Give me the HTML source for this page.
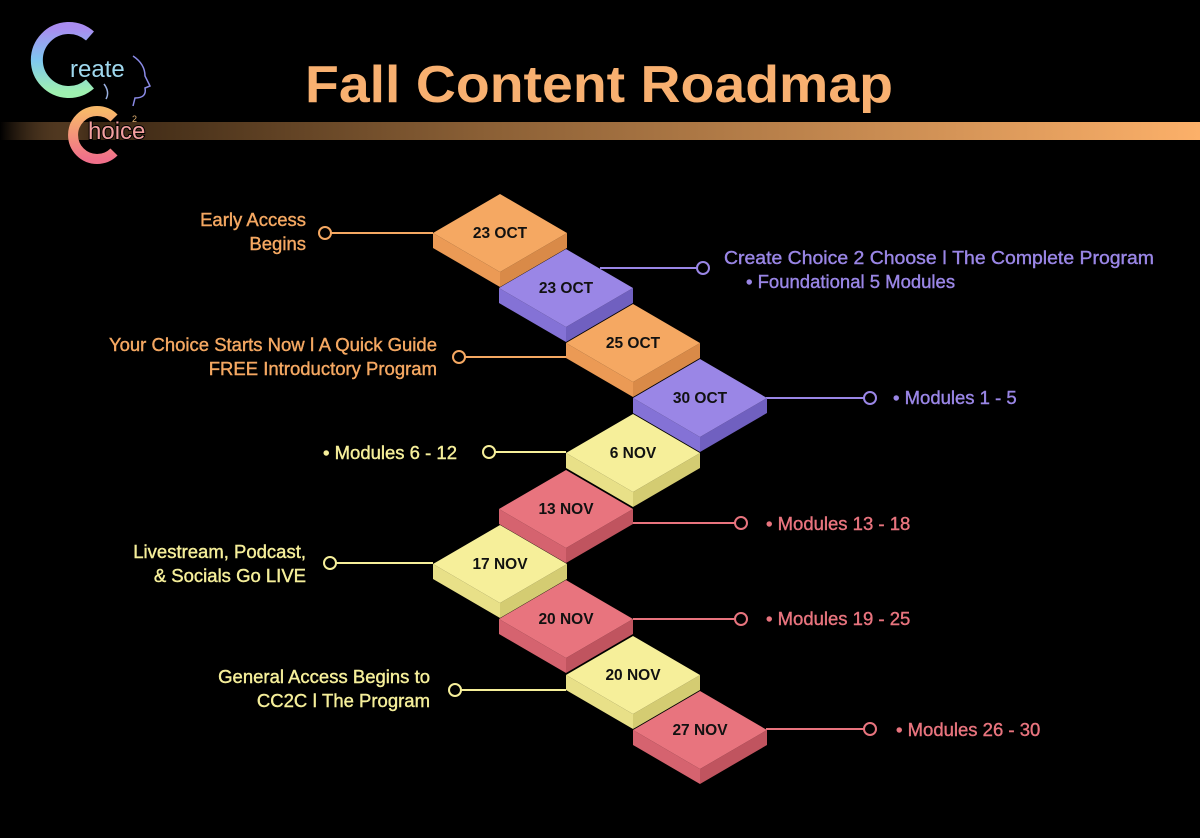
<!DOCTYPE html>
<html><head><meta charset="utf-8"><style>
html,body{margin:0;padding:0;background:#000;}
svg{display:block;}
text{font-family:"Liberation Sans","DejaVu Sans",sans-serif;}
</style></head><body>
<svg width="1200" height="838" viewBox="0 0 1200 838" xmlns="http://www.w3.org/2000/svg">
<defs>
<linearGradient id="bar" x1="0" x2="1" y1="0" y2="0">
<stop offset="0" stop-color="#f6ad66" stop-opacity="0"/>
<stop offset="0.08" stop-color="#3a2714"/>
<stop offset="0.4" stop-color="#8a5f35"/>
<stop offset="1" stop-color="#fcb069"/>
</linearGradient>
<linearGradient id="c1" x1="0" y1="0" x2="0" y2="1">
<stop offset="0" stop-color="#a98cf0"/><stop offset="0.5" stop-color="#7fc7f0"/><stop offset="1" stop-color="#9ef0b0"/>
</linearGradient>
<linearGradient id="c2" x1="0" y1="0" x2="0" y2="1">
<stop offset="0" stop-color="#f7b86a"/><stop offset="1" stop-color="#f0708a"/>
</linearGradient>
</defs>
<rect width="1200" height="838" fill="#000"/>
<rect x="0" y="122" width="1200" height="18" fill="url(#bar)"/>
<text x="305" y="102" font-size="52" font-weight="bold" fill="#f8b070" textLength="588" lengthAdjust="spacingAndGlyphs">Fall Content Roadmap</text>

<path d="M90,36 A32,32 0 1 0 90,84" fill="none" stroke="url(#c1)" stroke-width="12"/>
<text x="70" y="77" font-size="24" fill="#9fd8ee">reate</text>
<path d="M133,56 q12,8 12,20 l5,10 -5,2 q2,10 -10,10 l-2,8" fill="none" stroke="#8a8ae6" stroke-width="1.5"/>
<path d="M104,84 q6,8 2,15" fill="none" stroke="#9ab0e0" stroke-width="1.5"/>
<path d="M114,118 A24,24 0 1 0 114,152" fill="none" stroke="url(#c2)" stroke-width="10"/>
<text x="88" y="139" font-size="24" fill="#f4a0a0" stroke="#000" stroke-width="2" paint-order="stroke">hoice</text>
<text x="132" y="122" font-size="9" fill="#e0b070">2</text>

<g stroke-width="2" fill="none">
<line x1="331" y1="233" x2="433" y2="233" stroke="#f5a862"/><circle cx="325" cy="233" r="6" stroke="#f5a862"/>
<line x1="600" y1="268" x2="697" y2="268" stroke="#9a86e6"/><circle cx="703" cy="268" r="6" stroke="#9a86e6"/>
<line x1="465" y1="357" x2="566" y2="357" stroke="#f5a862"/><circle cx="459" cy="357" r="6" stroke="#f5a862"/>
<line x1="766" y1="398" x2="864" y2="398" stroke="#9a86e6"/><circle cx="870" cy="398" r="6" stroke="#9a86e6"/>
<line x1="495" y1="452" x2="566" y2="452" stroke="#f6ef9a"/><circle cx="489" cy="452" r="6" stroke="#f6ef9a"/>
<line x1="633" y1="523" x2="735" y2="523" stroke="#e8747e"/><circle cx="741" cy="523" r="6" stroke="#e8747e"/>
<line x1="336" y1="563" x2="433" y2="563" stroke="#f6ef9a"/><circle cx="330" cy="563" r="6" stroke="#f6ef9a"/>
<line x1="633" y1="619" x2="735" y2="619" stroke="#e8747e"/><circle cx="741" cy="619" r="6" stroke="#e8747e"/>
<line x1="461" y1="690" x2="566" y2="690" stroke="#f6ef9a"/><circle cx="455" cy="690" r="6" stroke="#f6ef9a"/>
<line x1="766" y1="729" x2="864" y2="729" stroke="#e8747e"/><circle cx="870" cy="729" r="6" stroke="#e8747e"/>
</g>

<g font-size="15.5" font-weight="bold" text-anchor="middle" fill="#111">
<g transform="translate(500,233)"><polygon points="-67,0 0,39 0,54 -67,15" fill="#eb9a55"/><polygon points="0,39 67,0 67,15 0,54" fill="#d98a48"/><polygon points="0,-39 67,0 0,39 -67,0" fill="#f5a862"/><text y="5">23 OCT</text></g>
<g transform="translate(566,288)"><polygon points="-67,0 0,39 0,54 -67,15" fill="#8472d6"/><polygon points="0,39 67,0 67,15 0,54" fill="#7060c0"/><polygon points="0,-39 67,0 0,39 -67,0" fill="#9a86e6"/><text y="5">23 OCT</text></g>
<g transform="translate(633,343)"><polygon points="-67,0 0,39 0,54 -67,15" fill="#eb9a55"/><polygon points="0,39 67,0 67,15 0,54" fill="#d98a48"/><polygon points="0,-39 67,0 0,39 -67,0" fill="#f5a862"/><text y="5">25 OCT</text></g>
<g transform="translate(700,398)"><polygon points="-67,0 0,39 0,54 -67,15" fill="#8472d6"/><polygon points="0,39 67,0 67,15 0,54" fill="#7060c0"/><polygon points="0,-39 67,0 0,39 -67,0" fill="#9a86e6"/><text y="5">30 OCT</text></g>
<g transform="translate(633,453)"><polygon points="-67,0 0,39 0,54 -67,15" fill="#e8e088"/><polygon points="0,39 67,0 67,15 0,54" fill="#d4cc72"/><polygon points="0,-39 67,0 0,39 -67,0" fill="#f6ef9a"/><text y="5">6 NOV</text></g>
<g transform="translate(566,509)"><polygon points="-67,0 0,39 0,54 -67,15" fill="#d5636f"/><polygon points="0,39 67,0 67,15 0,54" fill="#c0545f"/><polygon points="0,-39 67,0 0,39 -67,0" fill="#e8747e"/><text y="5">13 NOV</text></g>
<g transform="translate(500,564)"><polygon points="-67,0 0,39 0,54 -67,15" fill="#e8e088"/><polygon points="0,39 67,0 67,15 0,54" fill="#d4cc72"/><polygon points="0,-39 67,0 0,39 -67,0" fill="#f6ef9a"/><text y="5">17 NOV</text></g>
<g transform="translate(566,619)"><polygon points="-67,0 0,39 0,54 -67,15" fill="#d5636f"/><polygon points="0,39 67,0 67,15 0,54" fill="#c0545f"/><polygon points="0,-39 67,0 0,39 -67,0" fill="#e8747e"/><text y="5">20 NOV</text></g>
<g transform="translate(633,675)"><polygon points="-67,0 0,39 0,54 -67,15" fill="#e8e088"/><polygon points="0,39 67,0 67,15 0,54" fill="#d4cc72"/><polygon points="0,-39 67,0 0,39 -67,0" fill="#f6ef9a"/><text y="5">20 NOV</text></g>
<g transform="translate(700,730)"><polygon points="-67,0 0,39 0,54 -67,15" fill="#d5636f"/><polygon points="0,39 67,0 67,15 0,54" fill="#c0545f"/><polygon points="0,-39 67,0 0,39 -67,0" fill="#e8747e"/><text y="5">27 NOV</text></g>
</g>

<g font-size="18.5" stroke-width="0.4">
<g fill="#f5a862" stroke="#f5a862" text-anchor="end">
<text x="306" y="226">Early Access</text><text x="306" y="250">Begins</text>
<text x="437" y="351">Your Choice Starts Now ǀ A Quick Guide</text><text x="437" y="375">FREE Introductory Program</text>
</g>
<g fill="#9a86e6" stroke="#9a86e6">
<text x="724" y="264" textLength="430" lengthAdjust="spacingAndGlyphs">Create Choice 2 Choose ǀ The Complete Program</text>
<text x="746" y="288">• Foundational 5 Modules</text>
<text x="893" y="404">• Modules 1 - 5</text>
</g>
<g fill="#f6ef9a" stroke="#f6ef9a" text-anchor="end">
<text x="457" y="459">• Modules 6 - 12</text>
<text x="306" y="558">Livestream, Podcast,</text><text x="306" y="582">&amp; Socials Go LIVE</text>
<text x="430" y="683">General Access Begins to</text><text x="430" y="707">CC2C ǀ The Program</text>
</g>
<g fill="#e8747e" stroke="#e8747e">
<text x="766" y="530">• Modules 13 - 18</text>
<text x="766" y="625">• Modules 19 - 25</text>
<text x="896" y="736">• Modules 26 - 30</text>
</g>
</g>
</svg>
</body></html>
